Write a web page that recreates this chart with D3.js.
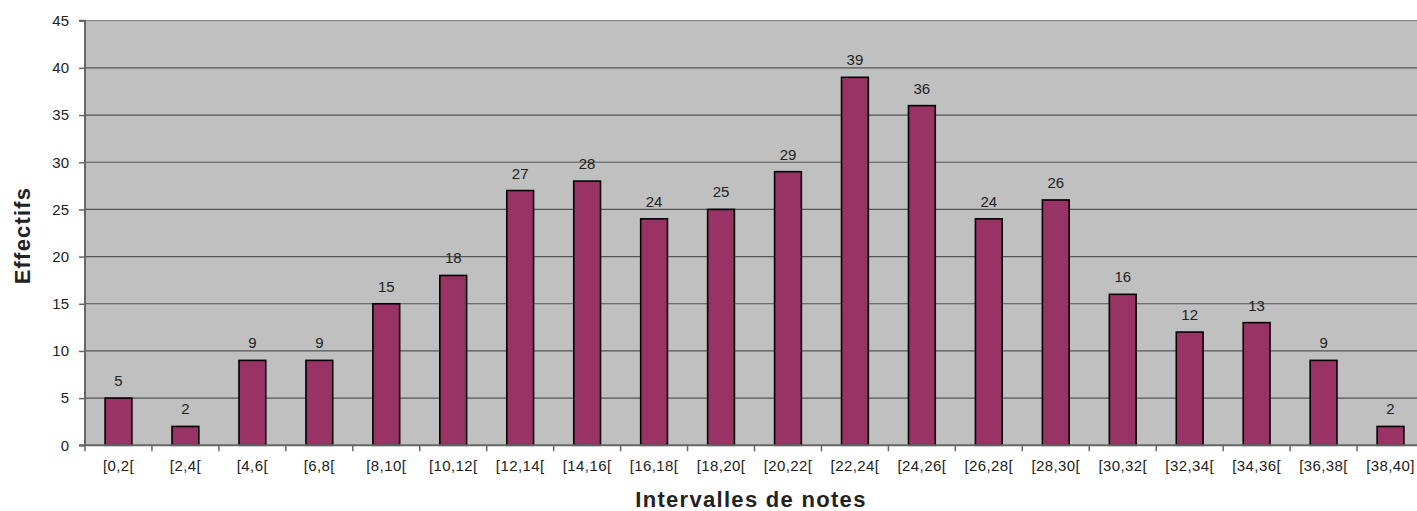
<!DOCTYPE html>
<html>
<head>
<meta charset="utf-8">
<script src="https://cdn.jsdelivr.net/npm/d3@7"></script>
<style>
  body { margin: 0; background: #fff; }
  text { font-family: "Liberation Sans", Arial, sans-serif; fill: #222; }
</style>
</head>
<body>
<svg id="chart" width="1417" height="511"></svg>
<script>
// class intervals and counts
const intervals = ["[0,2[", "[2,4[", "[4,6[", "[6,8[", "[8,10[", "[10,12[", "[12,14[", "[14,16[",
  "[16,18[", "[18,20[", "[20,22[", "[22,24[", "[24,26[", "[26,28[", "[28,30[", "[30,32[",
  "[32,34[", "[34,36[", "[36,38[", "[38,40]"];
const effectifs = [5, 2, 9, 9, 15, 18, 27, 28, 24, 25, 29, 39, 36, 24, 26, 16, 12, 13, 9, 2];
const yTicks = [0, 5, 10, 15, 20, 25, 30, 35, 40, 45];

const svg = d3.select("#chart");
const plotLeft = 85, plotTop = 20.7, plotBottom = 445.3;
const step = 66.95;
const plotRight = plotLeft + step * intervals.length;

const x = d3.scaleBand().domain(intervals).range([plotLeft, plotRight]).paddingInner(0).paddingOuter(0);
const y = d3.scaleLinear().domain([0, 45]).range([plotBottom, plotTop]);

// plot background
svg.append("rect")
  .attr("x", plotLeft).attr("y", plotTop)
  .attr("width", plotRight - plotLeft).attr("height", plotBottom - plotTop)
  .attr("fill", "#c0c0c0");

// grid lines
svg.append("g").selectAll("line")
  .data(yTicks.filter(d => d > 0))
  .enter().append("line")
  .attr("x1", plotLeft).attr("x2", plotRight)
  .attr("y1", d => y(d)).attr("y2", d => y(d))
  .attr("stroke", d => d === 45 ? "#8a8a8a" : "#555")
  .attr("stroke-width", 1.2);

// bars
const bw = x.bandwidth() * 0.4;
svg.append("g").selectAll("rect")
  .data(effectifs)
  .enter().append("rect")
  .attr("x", (d, i) => x(intervals[i]) + x.bandwidth() / 2 - bw / 2)
  .attr("y", d => y(d))
  .attr("width", bw)
  .attr("height", d => plotBottom - y(d))
  .attr("fill", "#993366")
  .attr("stroke", "#000")
  .attr("stroke-width", 1.6);

// value labels
svg.append("g").selectAll("text")
  .data(effectifs)
  .enter().append("text")
  .attr("x", (d, i) => x(intervals[i]) + x.bandwidth() / 2)
  .attr("y", d => y(d) - 12)
  .attr("text-anchor", "middle")
  .attr("font-size", 15)
  .text(d => d);

// y axis
const yAxis = d3.axisLeft(y).tickValues(yTicks).tickSize(6).tickPadding(10);
const gy = svg.append("g").attr("transform", `translate(${plotLeft},0)`).call(yAxis);
gy.select(".domain").attr("stroke", "#666").attr("stroke-width", 2).attr("d", `M-6,${plotTop}H0V${plotBottom}H-6`);
gy.selectAll(".tick line").attr("stroke", "#666").attr("stroke-width", 1.5);
gy.selectAll(".tick text").attr("font-size", 15).attr("fill", "#222").style("font-family", "Liberation Sans, Arial, sans-serif");

// x axis
const xTickPos = d3.range(intervals.length + 1).map(i => plotLeft + i * step);
const gx = svg.append("g");
gx.append("line").attr("x1", plotLeft).attr("x2", plotRight).attr("y1", plotBottom).attr("y2", plotBottom)
  .attr("stroke", "#666").attr("stroke-width", 2);
gx.selectAll("line.tk").data(xTickPos).enter().append("line")
  .attr("class", "tk")
  .attr("x1", d => d).attr("x2", d => d)
  .attr("y1", plotBottom).attr("y2", plotBottom + 6)
  .attr("stroke", "#666").attr("stroke-width", 1.5);
gx.selectAll("text").data(intervals).enter().append("text")
  .attr("x", d => x(d) + x.bandwidth() / 2)
  .attr("y", 471)
  .attr("text-anchor", "middle")
  .attr("font-size", 15)
  .attr("letter-spacing", 0.4)
  .text(d => d);

// axis titles
svg.append("text")
  .attr("transform", `translate(30,235.5) rotate(-90)`)
  .attr("text-anchor", "middle")
  .attr("font-size", 22).attr("font-weight", "bold").attr("fill", "#000")
  .attr("letter-spacing", 1.2)
  .text("Effectifs");
svg.append("text")
  .attr("x", 751).attr("y", 507)
  .attr("text-anchor", "middle")
  .attr("font-size", 22).attr("font-weight", "bold").attr("fill", "#000")
  .attr("letter-spacing", 1.3)
  .text("Intervalles de notes");
</script>
</body>
</html>
